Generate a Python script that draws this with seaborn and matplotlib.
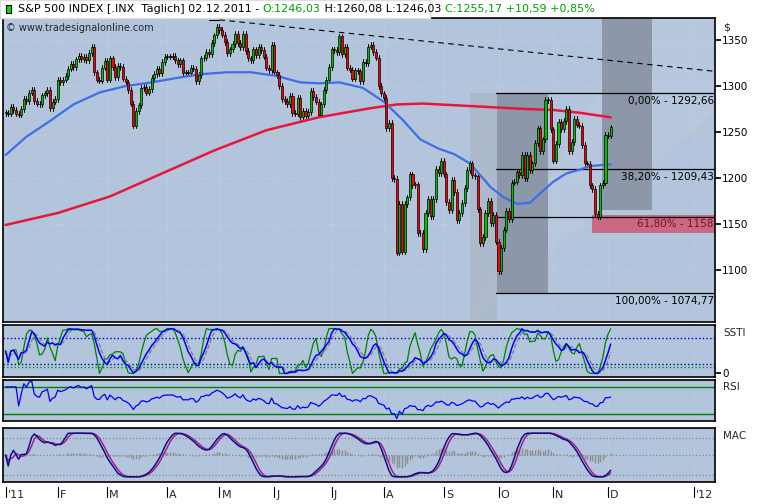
import numpy as np
import pandas as pd
import matplotlib
matplotlib.use("Agg")
import matplotlib.pyplot as plt
import seaborn as sns
from matplotlib.patches import Rectangle, Polygon

# =============================================================================
# DATA (daily closes, grouped by month)
# =============================================================================
closes_jan = [1271, 1270, 1277, 1274, 1270, 1269, 1275, 1286, 1284, 1293, 1296, 1284,
              1281, 1280, 1290, 1292, 1296, 1276, 1283, 1286]
closes_feb = [1307, 1304, 1307, 1311, 1319, 1324, 1321, 1329, 1333, 1329, 1332, 1328,
              1336, 1343, 1315, 1307, 1306, 1320, 1327]
closes_mar = [1307, 1330, 1321, 1310, 1322, 1321, 1308, 1304, 1296, 1281, 1257, 1273,
              1279, 1298, 1299, 1293, 1297, 1309, 1313, 1319, 1314, 1326, 1332]
closes_apr = [1332, 1332, 1333, 1328, 1324, 1328, 1314, 1315, 1314, 1320, 1319, 1305,
              1312, 1330, 1331, 1337, 1335, 1347, 1355, 1364]
closes_may = [1361, 1356, 1348, 1336, 1340, 1346, 1357, 1347, 1342, 1357, 1338, 1330,
              1328, 1340, 1334, 1343, 1339, 1332, 1320, 1317, 1345]
closes_jun = [1315, 1312, 1300, 1286, 1284, 1280, 1289, 1271, 1270, 1287, 1266, 1273,
              1268, 1272, 1295, 1288, 1283, 1269, 1280, 1296, 1307, 1321]
closes_jul = [1340, 1339, 1337, 1354, 1335, 1343, 1320, 1318, 1308, 1317, 1316, 1305,
              1326, 1325, 1343, 1345, 1337, 1331, 1300, 1292]
closes_aug = [1287, 1254, 1260, 1200, 1199, 1119, 1172, 1120, 1172, 1179, 1204, 1192,
              1193, 1140, 1140, 1123, 1162, 1177, 1159, 1177, 1210, 1205, 1219]
closes_sep = [1204, 1174, 1165, 1198, 1185, 1154, 1162, 1173, 1189, 1209, 1216, 1203,
              1202, 1166, 1129, 1136, 1162, 1175, 1151, 1160, 1131]
closes_oct = [1099, 1124, 1144, 1164, 1155, 1195, 1196, 1207, 1203, 1225, 1200, 1225,
              1209, 1216, 1238, 1254, 1229, 1242, 1285, 1285, 1253]
closes_nov = [1219, 1237, 1261, 1253, 1262, 1275, 1229, 1239, 1264, 1258, 1257, 1236,
              1216, 1215, 1192, 1188, 1161, 1158, 1192, 1195, 1247]
closes_dec = [1246, 1255]

month_closes = [closes_jan, closes_feb, closes_mar, closes_apr, closes_may, closes_jun,
                closes_jul, closes_aug, closes_sep, closes_oct, closes_nov, closes_dec]
month_labels = ["'11", "F", "M", "A", "M", "J", "J", "A", "S", "O", "N", "D", "'12"]

# moving averages read at trading-day index positions
ma200_idx = [0, 20, 40, 60, 80, 100, 120, 140, 150, 160, 180, 200, 210, 220, 232]
ma200_val = [1149, 1162, 1180, 1205, 1230, 1252, 1266, 1276, 1280, 1281, 1278, 1275,
             1274, 1271, 1266]
ma50_idx = [0, 8, 17, 26, 36, 46, 56, 66, 75, 85, 94, 104, 113, 120, 128, 137, 145, 152,
            159, 166, 172, 178, 182, 186, 191, 196, 201, 206, 210, 215, 220, 224, 228, 232]
ma50_val = [1225, 1245, 1262, 1280, 1293, 1300, 1304, 1309, 1313, 1315, 1315, 1311, 1304,
            1303, 1304, 1298, 1283, 1264, 1242, 1232, 1226, 1216, 1203, 1190, 1179, 1172,
            1173, 1186, 1196, 1205, 1209, 1213, 1214, 1215]

fib_levels = [1292.66, 1209.43, 1158.0, 1074.77]
fib_labels = ["0,00% - 1292,66", "38,20% - 1209,43", "61,80% - 1158", "100,00% - 1074,77"]
trend_pts = [(82, 1372), (272, 1316)]

# =============================================================================
# PREP
# =============================================================================
close = np.array([v for m in month_closes for v in m], dtype=float)
n = len(close)
idx = np.arange(n)
month_starts = list(np.cumsum([0] + [len(m) for m in month_closes]))[:12]
tick_pos = month_starts + [month_starts[-1] + 33]
opens = np.r_[close[0], close[:-1]]
opens[-1] = 1246.03
highs = np.maximum(opens, close) + 3
lows = np.minimum(opens, close) - 3

c = pd.Series(close)
def stoch(s, w):
    lo, hi = s.rolling(w, min_periods=1).min(), s.rolling(w, min_periods=1).max()
    return ((s - lo) / (hi - lo).replace(0, np.nan) * 100).fillna(50)
k14 = stoch(c, 14).rolling(5, min_periods=1).mean()
d14 = k14.rolling(3, min_periods=1).mean()
k5 = stoch(c, 8).rolling(3, min_periods=1).mean()
delta = c.diff().fillna(0)
up = delta.clip(lower=0).ewm(alpha=1/21).mean()
dn = (-delta.clip(upper=0)).ewm(alpha=1/21).mean()
rsi = (100 - 100 / (1 + up / dn.replace(0, np.nan))).fillna(70)
rsi.iloc[:5] = 70
macd = c.ewm(span=12).mean() - c.ewm(span=26).mean()
sig = macd.ewm(span=9).mean()
mac_k = stoch(macd, 20).rolling(5, min_periods=1).mean()
mac_d = mac_k.rolling(3, min_periods=1).mean()
hist = (macd - sig)

# =============================================================================
# FIGURE
# =============================================================================
sns.set_theme(style="white")
plt.rcParams['font.family'] = ['DejaVu Sans']
BG = '#b3c5dd'
W, H = 757, 504
fig = plt.figure(figsize=(W / 100, H / 100), dpi=100)

def add_ax(top, bottom):
    ax = fig.add_axes([3 / W, 1 - bottom / H, 712 / W, (bottom - top) / H])
    ax.set_facecolor(BG)
    for sp in ax.spines.values():
        sp.set_color('black'); sp.set_linewidth(1.2)
    ax.set_xlim(-1, 272)
    ax.set_xticks(tick_pos)
    ax.tick_params(axis='x', bottom=False, labelbottom=False)
    for t in tick_pos:
        ax.axvline(t, color='#c8d4e6', lw=0.6, ls=':', zorder=0)
    ax.yaxis.tick_right()
    ax.tick_params(axis='y', direction='out', length=4, labelsize=7.5, pad=1, colors='black')
    return ax

ax = add_ax(18, 322)
ax.set_ylim(1043.5, 1374)
ax.set_yticks([1100, 1150, 1200, 1250, 1300, 1350])
for yv in [1100, 1150, 1200, 1250, 1300, 1350]:
    ax.axhline(yv, color='#c8d4e6', lw=0.6, ls=':', zorder=0)
ax.axhline(1250, color='#c9bfa8', lw=0.6, zorder=0)

# fan channel and boxes
x0, y0 = 178, 1046
ax.add_patch(Polygon([(x0, y0), (244, 1374), (272, 1374), (272, 1274)], closed=True,
                     fc='#bccadd', ec='none', alpha=0.5, zorder=1))
ax.plot([x0, 244], [y0, 1374], color='#c3c8d2', lw=0.8, zorder=1)
ax.plot([x0, 272], [y0, 1274], color='#c3c8d2', lw=0.8, zorder=1)
ax.add_patch(Rectangle((178, 1046), 10.5, 246, fc='#a8b3c2', ec='none', alpha=0.6, zorder=1))
ax.add_patch(Rectangle((188.5, 1075), 19.5, 217, fc='#7f8898', ec='none', alpha=0.75, zorder=1))
ax.add_patch(Rectangle((228.7, 1165), 19.3, 210, fc='#7f8898', ec='none', alpha=0.75, zorder=1))
ax.add_patch(Rectangle((225, 1140), 47, 20, fc='#d34a66', ec='none', alpha=0.75, zorder=2))

# fibonacci lines
for lvl, lab in zip(fib_levels, fib_labels):
    ax.plot([188, 272], [lvl, lvl], color='black', lw=0.9, zorder=3)
    ax.text(271.5, lvl - 3, lab, ha='right', va='top', fontsize=7.5,
            color='#7a1020' if lvl == 1158.0 else 'black', zorder=6)

ax.plot([78, 82], [1372, 1372], color='black', lw=0.8, zorder=3)
ax.plot([t[0] for t in trend_pts], [t[1] for t in trend_pts], color='black', lw=0.8,
        ls=(0, (5, 4)), zorder=3)

# candles
for i in idx:
    col = '#00c000' if close[i] >= opens[i] else '#ff0000'
    ax.plot([i, i], [lows[i], highs[i]], color='black', lw=0.7, zorder=4)
    b0 = min(opens[i], close[i]); bh = max(abs(close[i] - opens[i]), 0.8)
    ax.add_patch(Rectangle((i - 0.4, b0), 0.8, bh, fc=col, ec='black', lw=0.5, zorder=5))

sns.lineplot(x=ma200_idx, y=ma200_val, ax=ax, color='#e8163c', lw=1.8, zorder=4)
sns.lineplot(x=ma50_idx, y=ma50_val, ax=ax, color='#3c6fe8', lw=1.6, zorder=4)
ax.set_xlim(-1, 272)
ax.set_xlabel(''); ax.set_ylabel('')
ax.text(1.0 + 8 / 712, 0.985, '$', transform=ax.transAxes, fontsize=8, va='top')
ax.text(0.004, 0.985, '© www.tradesignalonline.com', transform=ax.transAxes,
        fontsize=7, va='top', zorder=7)

# SSTI
a1 = add_ax(325, 377)
a1.set_ylim(-8, 108)
a1.set_yticks([0]); a1.set_yticklabels(['0'])
for yv, cl in [(80, '#0000c0'), (20, '#0000c0'), (14, '#009000')]:
    a1.axhline(yv, color=cl, lw=1, ls=':')
sns.lineplot(x=idx, y=k5.values, ax=a1, color='#008000', lw=0.9)
sns.lineplot(x=idx, y=d14.values, ax=a1, color='#808080', lw=0.9, ls='--')
sns.lineplot(x=idx, y=k14.values, ax=a1, color='#0000ff', lw=1.1)
a1.set_xlim(-1, 272)
a1.text(1.0 + 8 / 712, 0.95, 'SSTI', transform=a1.transAxes, fontsize=7.5, va='top')

# RSI
a2 = add_ax(380, 421)
a2.set_ylim(20, 80)
a2.set_yticks([])
a2.axhline(70, color='#008000', lw=1); a2.axhline(30, color='#008000', lw=1)
sns.lineplot(x=idx, y=rsi.values, ax=a2, color='#0000ff', lw=0.9)
a2.set_xlim(-1, 272)
a2.text(1.0 + 8 / 712, 0.95, 'RSI', transform=a2.transAxes, fontsize=7.5, va='top')

# MAC
a3 = add_ax(428, 482)
a3.set_ylim(-12, 112)
a3.set_yticks([])
for yv in [90, 50, 5]:
    a3.axhline(yv, color='#888888', lw=0.9, ls=':')
scale = 30 / np.abs(hist).max()
a3.vlines(idx, 50, 50 + hist.values * scale, color='#8c8c8c', lw=1)
sns.lineplot(x=idx, y=mac_d.values, ax=a3, color='#a0209c', lw=1.1)
sns.lineplot(x=idx, y=mac_k.values, ax=a3, color='#10107a', lw=1.1)
a3.set_xlim(-1, 272)
a3.text(1.0 + 8 / 712, 0.95, 'MAC', transform=a3.transAxes, fontsize=7.5, va='top')

# x axis labels under the last panel
for t, lab in zip(tick_pos, month_labels):
    fig.lines.append(plt.Line2D([(3 + (t + 1) / 273 * 712) / W] * 2,
                                [1 - 487 / H, 1 - 497 / H], color='black', lw=0.8,
                                transform=fig.transFigure))
    fig.text((3 + (t + 1) / 273 * 712 + 2) / W, 1 - 495 / H, lab, fontsize=8,
             va='center', ha='left')

# header with coloured parts
fig.patches.append(Rectangle((0, 1 - 18 / H), 430 / W, 18 / H, fc='white', ec='#dddddd',
                             transform=fig.transFigure))
fig.patches.append(Rectangle((6 / W, 1 - 13 / H), 5 / W, 8 / H, fc='#00e000', ec='black',
                             lw=0.8, transform=fig.transFigure))
parts = [("S&P 500 INDEX [.INX  Täglich] 02.12.2011 - ", 'black'), ("O:1246,03", '#00a000'),
         (" H:1260,08 L:1246,03 ", 'black'), ("C:1255,17 +10,59 +0,85%", '#00a000')]
renderer = fig.canvas.get_renderer()
xpix = 18
for txt, col in parts:
    t = fig.text(xpix / W, 1 - 9 / H, txt, fontsize=8, color=col, va='center', ha='left')
    xpix += t.get_window_extent(renderer).width

fig.savefig('out.png', dpi=100)
